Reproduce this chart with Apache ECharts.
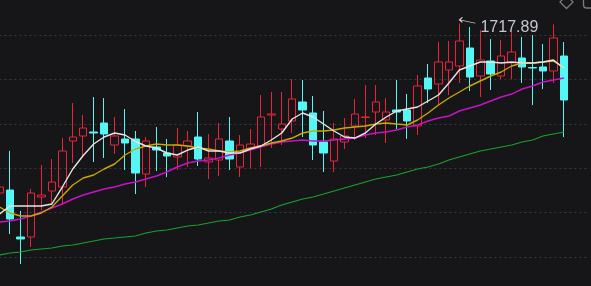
<!DOCTYPE html>
<html>
<head>
<meta charset="utf-8">
<script src="https://cdn.jsdelivr.net/npm/echarts@6/dist/echarts.min.js"></script>
<style>
html,body{margin:0;padding:0;background:#161517;}
#chart{width:591px;height:286px;}
</style>
</head>
<body>
<div id="chart"></div>
<script>
// ---- data ----
const opens = [1603.24,1605.27,1573.51,1573.51,1600.54,1604.59,1607.29,1638.38,1641.75,1644.46,
  1650.54,1635.67,1639.73,1639.73,1616.08,1634.32,1630.27,1627.57,1635.00,1641.08,
  1624.19,1625.54,1638.38,1620.81,1632.97,1635.00,1655.94,1646.48,1651.89,1664.73,
  1657.30,1637.70,1624.86,1637.70,1648.51,1654.25,1657.97,1652.57,1659.32,1659.32,
  1648.51,1680.95,1676.89,1686.35,1689.05,1701.22,1682.30,1692.43,1682.30,1691.08,
  1694.46,1688.04,1688.38,1685.68,1695.81];
const closes = [1607.29,1585.67,1572.16,1603.24,1601.89,1610.67,1631.62,1641.08,1647.16,1643.78,
  1643.11,1641.75,1637.02,1616.75,1638.38,1632.29,1628.24,1635.67,1638.38,1626.21,
  1626.89,1639.73,1626.21,1635.67,1636.35,1654.59,1656.62,1649.86,1666.76,1659.32,
  1635.67,1630.27,1639.73,1641.75,1656.62,1654.59,1664.73,1657.97,1657.97,1651.89,
  1675.54,1673.51,1691.76,1691.76,1705.95,1681.62,1693.11,1683.65,1695.81,1698.51,
  1688.38,1687.70,1685.68,1707.97,1666.08];
const lows = [1595.13,1575.54,1555.27,1566.75,1591.75,1595.13,1595.13,1623.51,1628.24,1624.19,
  1626.89,1629.59,1618.78,1602.56,1607.29,1618.11,1614.05,1618.78,1620.81,1621.48,
  1612.70,1614.73,1618.78,1614.05,1620.13,1620.81,1633.65,1635.67,1643.78,1641.08,
  1625.54,1617.43,1617.43,1632.97,1639.05,1640.40,1642.43,1637.02,1646.48,1639.73,
  1642.43,1664.05,1662.70,1669.46,1677.57,1672.16,1668.11,1672.84,1680.27,1680.27,
  1677.57,1662.70,1673.51,1677.57,1641.08];
const highs = [1626.89,1631.62,1591.08,1605.94,1622.16,1626.21,1640.40,1664.05,1655.94,1668.11,
  1667.43,1654.59,1660.00,1645.13,1641.08,1647.84,1639.73,1647.16,1645.13,1657.97,
  1643.11,1650.54,1654.59,1642.43,1646.48,1669.46,1671.49,1671.49,1680.27,1679.59,
  1668.78,1658.65,1650.54,1653.92,1666.76,1676.22,1676.22,1667.43,1679.59,1670.13,
  1682.97,1690.41,1705.27,1705.95,1717.89,1715.41,1713.38,1707.30,1706.62,1712.03,
  1708.65,1710.00,1703.92,1717.20,1705.27];
const ma5 = [1589.05,1594.46,1594.46,1594.46,1594.46,1595.81,1607.29,1619.46,1628.60,1636.35,
  1641.08,1643.78,1642.43,1638.05,1635.00,1633.65,1630.27,1628.92,1632.29,1634.32,
  1631.62,1631.62,1630.27,1630.27,1632.97,1635.00,1639.05,1643.78,1653.24,1657.30,
  1654.59,1649.86,1645.13,1641.08,1640.40,1643.78,1649.86,1654.59,1658.65,1660.00,
  1661.35,1665.40,1669.46,1677.57,1686.35,1689.05,1691.76,1691.76,1691.08,1691.76,
  1691.08,1691.08,1691.76,1693.11,1687.70];
const ma10 = [1593.78,1589.73,1587.70,1587.70,1589.73,1593.78,1601.21,1608.65,1613.38,1615.40,
  1619.46,1622.84,1628.92,1632.97,1635.00,1636.35,1635.67,1635.67,1635.00,1633.65,
  1632.97,1631.62,1630.94,1631.62,1633.65,1635.00,1637.02,1638.38,1640.40,1643.78,
  1645.13,1645.13,1645.81,1647.16,1647.84,1648.51,1649.86,1650.54,1649.86,1649.19,
  1652.57,1657.30,1662.70,1667.43,1671.49,1675.54,1678.92,1682.30,1685.00,1689.05,
  1691.08,1691.08,1691.76,1692.43,1687.70];
const ma20 = [1583.64,1584.32,1585.67,1587.70,1590.40,1593.10,1595.81,1599.19,1601.89,1603.92,
  1605.94,1607.29,1609.32,1610.67,1612.70,1614.73,1617.43,1620.81,1623.51,1624.86,
  1625.54,1626.89,1628.92,1630.27,1632.29,1634.32,1636.35,1637.70,1638.38,1639.05,
  1638.38,1638.38,1639.05,1639.73,1640.40,1642.43,1643.78,1644.46,1645.81,1647.84,
  1649.19,1651.89,1653.92,1655.27,1658.65,1660.67,1662.70,1665.40,1668.11,1670.13,
  1673.51,1675.54,1678.24,1679.59,1680.95];
const ma60 = [1561.35,1562.70,1563.37,1564.72,1565.40,1566.08,1567.43,1568.10,1569.45,1570.81,
  1572.16,1572.83,1573.51,1574.18,1576.21,1577.56,1578.24,1579.59,1580.94,1581.62,
  1582.97,1584.32,1585.00,1587.02,1588.37,1590.40,1592.43,1595.13,1597.16,1599.19,
  1600.54,1602.56,1604.59,1606.62,1608.65,1610.67,1612.70,1614.05,1615.40,1617.43,
  1619.46,1620.81,1622.84,1625.54,1627.57,1629.59,1631.62,1632.97,1634.32,1635.67,
  1637.70,1639.05,1641.75,1643.11,1644.46];
const categories = opens.map((_, i) => 'D' + (i + 1)).concat(['P1', 'P2']); // 2 empty slots on the right
// ----------------------------------------------

const candles = opens.map((o, i) => [o, closes[i], lows[i], highs[i]]);

const chart = echarts.init(document.getElementById('chart'), null, {renderer: 'canvas'});
const lineSeries = (name, data, color, w) => ({
  name, type: 'line', data, symbol: 'none', smooth: false, silent: true,
  lineStyle: {color, width: w}, z: 3
});

chart.setOption({
  animation: false,
  backgroundColor: '#161517',
  grid: {left: -5.6, right: 1, top: -53.8, bottom: -15.4, containLabel: false, outerBoundsMode: 'none'},
  xAxis: {
    type: 'category', data: categories, boundaryGap: true, show: false
  },
  yAxis: {
    type: 'value', min: 1530, max: 1770, interval: 30,
    axisLine: {show: false}, axisTick: {show: false}, axisLabel: {show: false},
    splitLine: {show: true, lineStyle: {color: '#39383b', width: 1, type: [2, 3]}}
  },
  series: [
    {
      name: 'K', type: 'candlestick', data: candles, barWidth: 8, z: 2,
      itemStyle: {
        color: 'transparent', color0: '#55f6f6',
        borderColor: '#e8233a', borderColor0: '#55f6f6', borderWidth: 1
      },
      markPoint: {
        symbol: 'path://M0,2.5L3,0M0,2.5L3,5M0,2.5L16,6',
        symbolSize: [16, 6],
        symbolOffset: [8, -3],
        itemStyle: {color: 'none', borderColor: '#d6d6d6', borderWidth: 1},
        label: {
          show: true, position: 'right', distance: 1, offset: [0, 7],
          color: '#c3c7cf', fontSize: 16, fontFamily: 'Liberation Sans, Arial, sans-serif',
          formatter: p => Number(p.value).toFixed(2)
        },
        data: [{type: 'max', valueDim: 'highest'}]
      }
    },
    lineSeries('MA60', ma60, '#17a32e', 1.2),
    lineSeries('MA20', ma20, '#c613c6', 1.4),
    lineSeries('MA10', ma10, '#c9a800', 1.4),
    lineSeries('MA5', ma5, '#e6e6e6', 1.4)
  ],
  graphic: [
    {type: 'polygon', shape: {points: [[560, 2], [566.5, -4.5], [573, 2], [566.5, 8.5]]},
     style: {fill: 'none', stroke: '#7b7b7b', lineWidth: 1.3}, silent: true},
    {type: 'rect', shape: {x: 583.5, y: -10, width: 14, height: 18, r: 3},
     style: {fill: 'none', stroke: '#7b7b7b', lineWidth: 1.3}, silent: true}
  ]
});
</script>
</body>
</html>
